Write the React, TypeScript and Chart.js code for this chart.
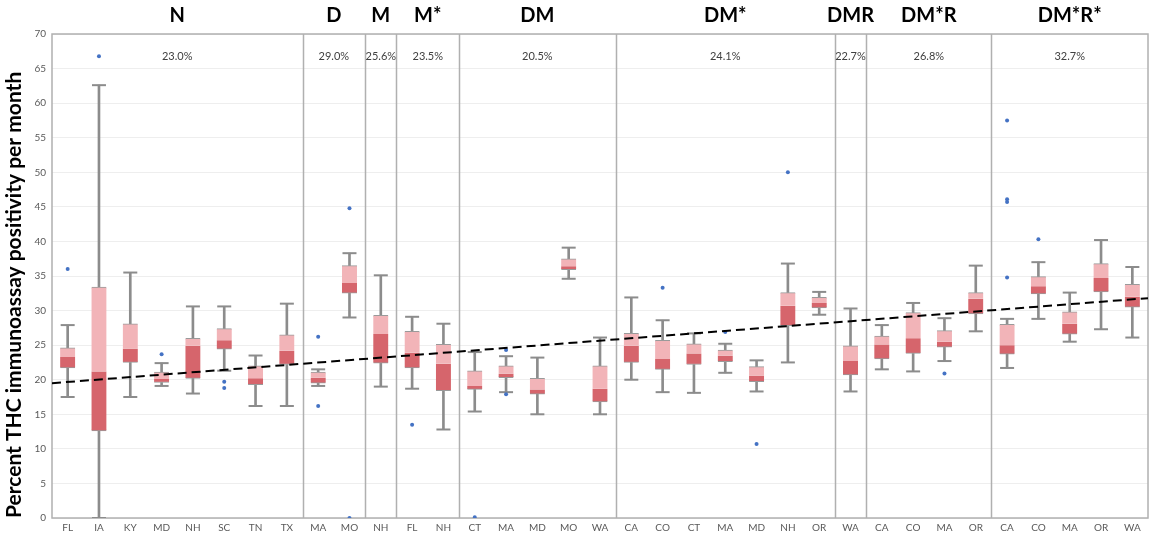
import React, { useEffect, useRef } from 'react';
import { Chart, registerables } from 'chart.js';

Chart.register(...registerables);

// ---- data ----
const states = [
  'FL', 'IA', 'KY', 'MD', 'NH', 'SC', 'TN', 'TX',
  'MA', 'MO',
  'NH',
  'FL', 'NH',
  'CT', 'MA', 'MD', 'MO', 'WA',
  'CA', 'CO', 'CT', 'MA', 'MD', 'NH', 'OR',
  'WA',
  'CA', 'CO', 'MA', 'OR',
  'CA', 'CO', 'MA', 'OR', 'WA',
];
const groupNames = ['N', 'D', 'M', 'M*', 'DM', 'DM*', 'DMR', 'DM*R', 'DM*R*'];
const groupSizes = [8, 2, 1, 2, 5, 7, 1, 4, 5];
const groupPercents = ['23.0%', '29.0%', '25.6%', '23.5%', '20.5%', '24.1%', '22.7%', '26.8%', '32.7%'];

const whiskerLow = [
  17.5, 0.0, 17.5, 19.1, 18.0, 21.3, 16.2, 16.2,
  19.1, 29.0,
  19.0,
  18.7, 12.8,
  15.4, 18.2, 15.0, 34.6, 15.0,
  20.0, 18.2, 18.1, 21.0, 18.3, 22.5, 29.4,
  18.3,
  21.5, 21.2, 22.7, 27.0,
  21.7, 28.8, 25.5, 27.3, 26.1,
];
const q1 = [
  21.7, 12.6, 22.5, 19.6, 20.2, 24.4, 19.3, 22.2,
  19.5, 32.5,
  22.4,
  21.7, 18.4,
  18.6, 20.3, 17.9, 35.9, 16.8,
  22.5, 21.5, 22.2, 22.6, 19.7, 27.8, 30.4,
  20.7,
  23.0, 23.8, 24.7, 29.5,
  23.7, 32.4, 26.6, 32.7, 30.5,
];
const median = [
  23.3, 21.2, 24.5, 20.1, 24.9, 25.7, 20.2, 24.2,
  20.3, 34.0,
  26.6,
  23.9, 22.3,
  19.1, 20.9, 18.6, 36.4, 18.7,
  24.9, 23.0, 23.8, 23.5, 20.6, 30.7, 31.1,
  22.7,
  25.1, 26.0, 25.5, 31.7,
  25.0, 33.5, 28.1, 34.7, 32.0,
];
const q3 = [
  24.6, 33.4, 28.1, 21.1, 26.0, 27.4, 22.0, 26.5,
  21.1, 36.5,
  29.3,
  27.0, 25.1,
  21.3, 22.0, 20.2, 37.5, 22.0,
  26.7, 25.7, 25.2, 24.3, 21.9, 32.6, 31.9,
  24.9,
  26.3, 29.7, 27.1, 32.6,
  28.0, 34.9, 29.8, 36.8, 33.8,
];
const whiskerHigh = [
  27.9, 62.6, 35.5, 22.4, 30.6, 30.6, 23.5, 31.0,
  21.5, 38.3,
  35.1,
  29.1, 28.1,
  24.0, 23.4, 23.2, 39.1, 26.1,
  31.9, 28.6, 26.7, 25.2, 22.8, 36.8, 32.7,
  30.3,
  27.9, 31.1, 28.9, 36.5,
  28.8, 37.0, 32.6, 40.2, 36.3,
];
const outlierIndex = [0, 1, 3, 5, 5, 8, 8, 9, 9, 11, 13, 14, 14, 19, 21, 22, 23, 28, 30, 30, 30, 30, 31];
const outlierValue = [36.0, 66.8, 23.7, 19.7, 18.8, 26.2, 16.2, 44.8, 0.0, 13.5, 0.1, 24.3, 17.9, 33.3, 26.9, 10.7, 50.0, 20.9, 57.5, 46.1, 45.7, 34.8, 40.3];
const trendStart = 19.5;
const trendEnd = 31.8;

const yTicks = [0, 5, 10, 15, 20, 25, 30, 35, 40, 45, 50, 55, 60, 65, 70];

// ---- styles ----
const DARK = '#d6656c';
const LIGHT = '#f2b4b8';
const GRAY = '#8c8c8c';
const FRAME = '#b0b0b0';
const BLUE = '#4472c4';
const FONT = 'Lato, "Liberation Sans", sans-serif';

const overlayPlugin = {
  id: 'overlay',
  beforeDatasetsDraw(chart: any) {
    const { ctx, chartArea } = chart;
    const x = chart.scales.x;
    ctx.save();
    ctx.strokeStyle = FRAME;
    ctx.lineWidth = 1.5;
    ctx.strokeRect(chartArea.left, chartArea.top, chartArea.right - chartArea.left, chartArea.bottom - chartArea.top);
    let start = 0;
    for (let g = 0; g < groupSizes.length - 1; g++) {
      start += groupSizes[g];
      const px = Math.round(x.getPixelForValue(start - 0.5)) + 0.5;
      ctx.beginPath();
      ctx.moveTo(px, chartArea.top);
      ctx.lineTo(px, chartArea.bottom);
      ctx.stroke();
    }
    ctx.restore();
  },
  afterDraw(chart: any) {
    const { ctx, chartArea } = chart;
    const x = chart.scales.x;
    ctx.save();
    ctx.textAlign = 'center';
    ctx.textBaseline = 'middle';
    let start = 0;
    for (let g = 0; g < groupSizes.length; g++) {
      const cx = x.getPixelForValue(start + groupSizes[g] / 2 - 0.5);
      ctx.fillStyle = '#000';
      ctx.font = `bold 20px ${FONT}`;
      ctx.fillText(groupNames[g], cx, 16);
      ctx.fillStyle = '#404040';
      ctx.font = `11px ${FONT}`;
      ctx.fillText(groupPercents[g], cx, chartArea.top + 22);
      start += groupSizes[g];
    }
    ctx.restore();
  },
};

export default function App() {
  const ref = useRef<HTMLCanvasElement | null>(null);

  useEffect(() => {
    if (!ref.current) return;
    const idx = states.map((_, i) => i);
    const chart = new Chart(ref.current, {
      type: 'bar',
      data: {
        datasets: [
          {
            type: 'line',
            label: 'trend',
            data: [
              { x: -0.5, y: trendStart },
              { x: states.length - 0.5, y: trendEnd },
            ],
            borderColor: '#000',
            borderWidth: 2,
            borderDash: [9, 5],
            pointRadius: 0,
            order: 0,
          } as any,
          {
            type: 'line',
            label: 'outliers',
            data: outlierIndex.map((i, k) => ({ x: i, y: outlierValue[k] })),
            showLine: false,
            pointRadius: 2,
            pointBackgroundColor: BLUE,
            pointBorderWidth: 0,
            order: 1,
          } as any,
          {
            label: 'upper box',
            data: idx.map((i) => ({ x: i, y: [median[i], q3[i]] })),
            backgroundColor: LIGHT,
            borderColor: '#9a9a9a',
            borderWidth: { top: 1, bottom: 0, left: 0, right: 0 },
            borderSkipped: false,
            barThickness: 15,
            grouped: false,
            order: 2,
          } as any,
          {
            label: 'lower box',
            data: idx.map((i) => ({ x: i, y: [q1[i], median[i]] })),
            backgroundColor: DARK,
            borderColor: '#9a9a9a',
            borderWidth: { top: 0, bottom: 1, left: 0, right: 0 },
            borderSkipped: false,
            barThickness: 15,
            grouped: false,
            order: 2,
          } as any,
          {
            type: 'line',
            label: 'caps high',
            data: idx.map((i) => ({ x: i, y: whiskerHigh[i] })),
            showLine: false,
            pointStyle: 'line',
            pointRadius: 7,
            pointBorderColor: GRAY,
            pointBorderWidth: 2,
            order: 3,
          } as any,
          {
            type: 'line',
            label: 'caps low',
            data: idx.map((i) => ({ x: i, y: whiskerLow[i] })),
            showLine: false,
            pointStyle: 'line',
            pointRadius: 7,
            pointBorderColor: GRAY,
            pointBorderWidth: 2,
            order: 3,
          } as any,
          {
            label: 'whisker high',
            data: idx.map((i) => ({ x: i, y: [q3[i], whiskerHigh[i]] })),
            backgroundColor: GRAY,
            borderWidth: 0,
            barThickness: 2,
            grouped: false,
            order: 4,
          } as any,
          {
            label: 'whisker low',
            data: idx.map((i) => ({ x: i, y: [whiskerLow[i], q1[i]] })),
            backgroundColor: GRAY,
            borderWidth: 0,
            barThickness: 2,
            grouped: false,
            order: 4,
          } as any,
        ],
      },
      options: {
        animation: false,
        responsive: true,
        maintainAspectRatio: false,
        events: [],
        layout: { autoPadding: false, padding: { top: 34, right: 3, left: 0, bottom: 0 } },
        plugins: {
          legend: { display: false },
          tooltip: { enabled: false },
        },
        scales: {
          x: {
            type: 'linear',
            min: -0.5,
            max: states.length - 0.5,
            offset: false,
            grid: { display: false, drawTicks: false },
            border: { display: false },
            afterBuildTicks: (scale: any) => {
              scale.ticks = states.map((_, i) => ({ value: i }));
            },
            afterFit: (scale: any) => {
              scale.height = 18;
              scale.paddingLeft = 0;
              scale.paddingRight = 0;
            },
            ticks: {
              autoSkip: false,
              maxRotation: 0,
              padding: 4,
              color: '#595959',
              font: { size: 10, family: FONT },
              callback: (v: any) => states[v] ?? '',
            },
          } as any,
          y: {
            min: 0,
            max: 70,
            grid: { color: '#eeeeee', drawTicks: false },
            border: { display: false },
            afterBuildTicks: (scale: any) => {
              scale.ticks = yTicks.map((v) => ({ value: v }));
            },
            afterFit: (scale: any) => {
              scale.width = 52;
            },
            ticks: {
              padding: 6,
              color: '#595959',
              font: { size: 10, family: FONT },
            },
            title: {
              display: true,
              text: 'Percent THC immunoassay positivity per month',
              color: '#000',
              align: 'start',
              font: { size: 21, weight: 'bold', family: FONT },
              padding: { top: 2, bottom: 0 },
            },
          } as any,
        },
      },
      plugins: [overlayPlugin],
    });
    return () => chart.destroy();
  }, []);

  return (
    <div style={{ position: 'fixed', left: 0, top: 0, width: 1151, height: 536, background: '#fff' }}>
      <canvas ref={ref} />
    </div>
  );
}
